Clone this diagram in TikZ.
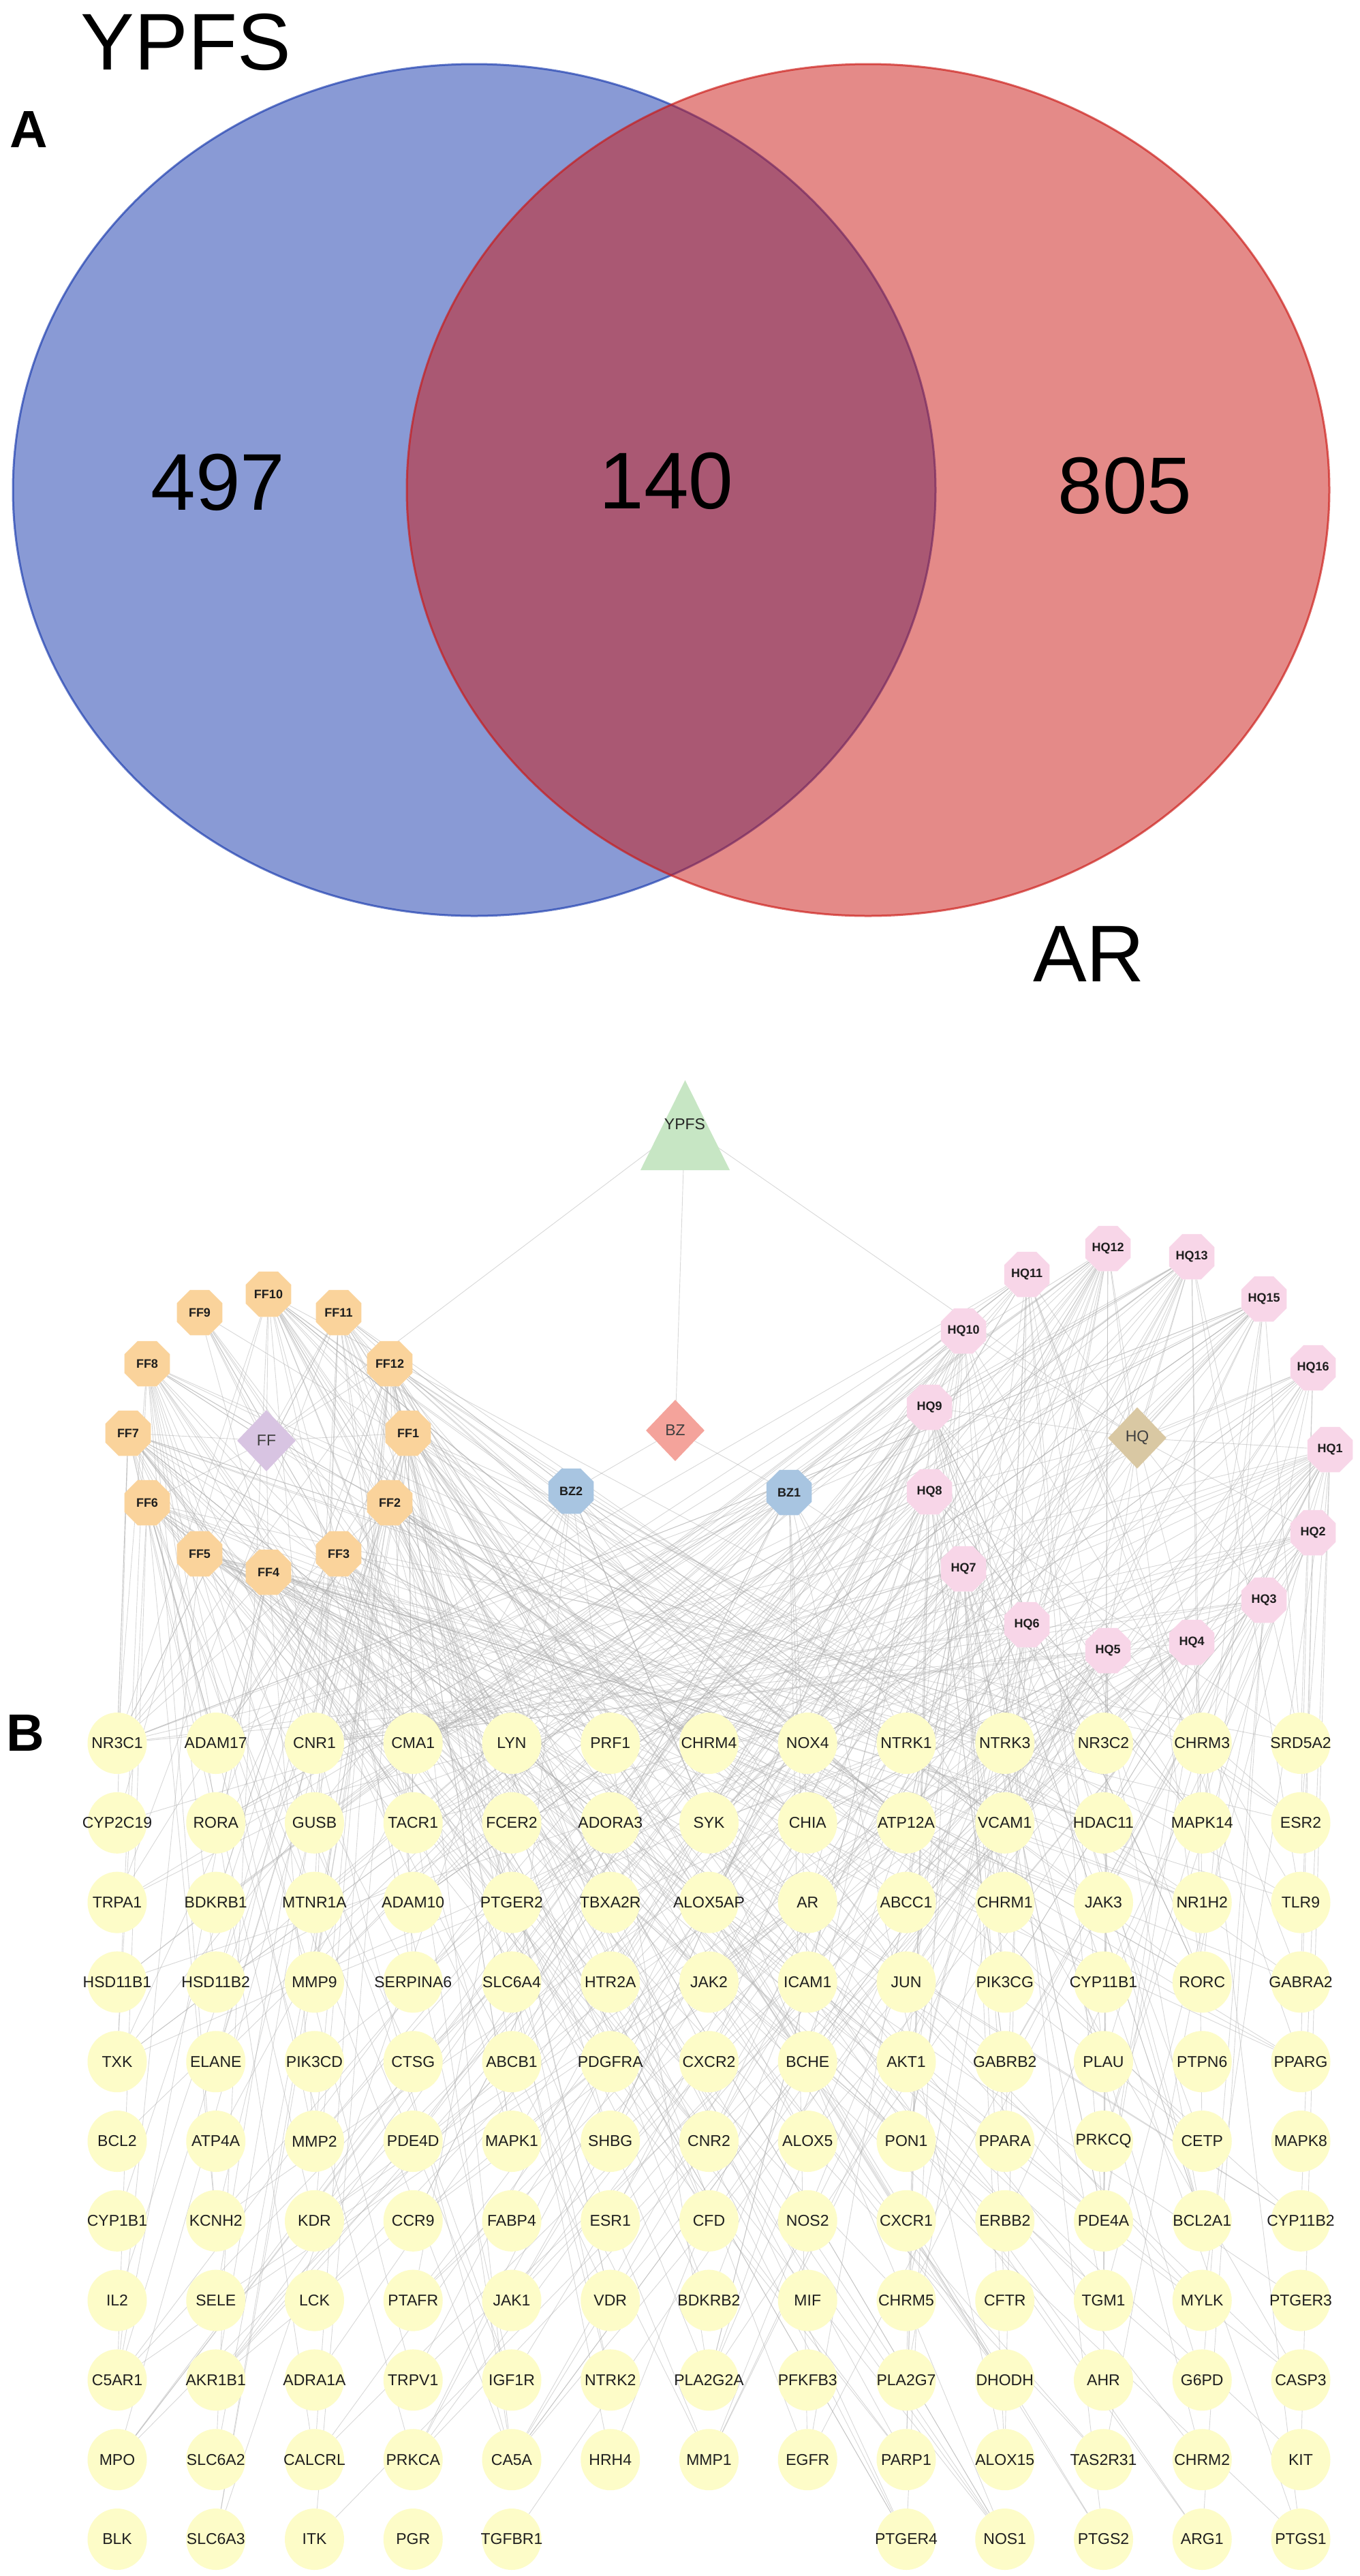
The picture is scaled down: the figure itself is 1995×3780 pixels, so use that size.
\documentclass[tikz,border=0pt]{standalone}
\usepackage{fontspec}
\setmainfont{Liberation Sans}
\usetikzlibrary{shapes.geometric}
\pgfdeclarelayer{bg}
\pgfdeclarelayer{paper}
\pgfsetlayers{paper,bg,main}
\definecolor{vblue}{RGB}{21,55,173}
\definecolor{vred}{RGB}{203,23,19}
\definecolor{ffor}{RGB}{250,211,155}
\definecolor{hqpk}{RGB}{248,214,232}
\definecolor{bzbl}{RGB}{168,197,225}
\definecolor{ffdia}{RGB}{216,196,226}
\definecolor{bzdia}{RGB}{244,163,155}
\definecolor{hqdia}{RGB}{217,200,163}
\definecolor{ypfsg}{RGB}{199,230,196}
\definecolor{geneyel}{RGB}{253,252,200}
\definecolor{txt}{RGB}{30,30,30}
\newcommand\vennfont{\fontsize{118}{120}\selectfont}
\newcommand\panelfont{\fontsize{77}{80}\selectfont\bfseries}
\newcommand\genefont{\fontsize{23}{25}\selectfont}
\newcommand\cpdfont{\fontsize{18}{20}\selectfont\bfseries}
\newcommand\herbfont{\fontsize{23}{25}\selectfont}
\begin{document}
\begin{tikzpicture}[x=1pt,y=-1pt,
  edge/.style={draw=black!30, line width=0.9pt, opacity=0.5},
  genelabel/.style={font=\genefont, text=txt, inner sep=0pt},
  cpdlabel/.style={font=\cpdfont, text=txt, inner sep=0pt},
  herblabel/.style={font=\herbfont, text=black!75, inner sep=0pt},
  gene/.style={ellipse, minimum width=87, minimum height=90, inner sep=0pt, fill=geneyel,
    label={[genelabel]center:#1}},
  cpd/.style={regular polygon, regular polygon sides=8, minimum size=72, inner sep=0pt,
    label={[cpdlabel]center:#1}},
  herb/.style={diamond, minimum width=86, minimum height=90, inner sep=0pt,
    label={[herblabel]center:#1}},
  vlabel/.style={font=\vennfont, text=black, inner sep=0pt}
]
\useasboundingbox (0,0) rectangle (1995,3780);
\begin{pgfonlayer}{paper}
  \fill[white] (0,0) rectangle (1995,3780);
\end{pgfonlayer}

% ---------- Panel A: Venn ----------
\fill[vblue, fill opacity=0.5] (696,719) ellipse [x radius=677, y radius=625];
\draw[vblue, draw opacity=0.65, line width=3] (696,719) ellipse [x radius=677, y radius=625];
\fill[vred, fill opacity=0.5] (1274,719) ellipse [x radius=677, y radius=625];
\draw[vred, draw opacity=0.65, line width=3] (1274,719) ellipse [x radius=677, y radius=625];

\node[vlabel] (vYPFS) at (273,62) {YPFS};
\node[vlabel] (vAR) at (1598,1400) {AR};
\node[vlabel] (n497) at (320,708) {497};
\node[vlabel] (n140) at (978,706) {140};
\node[vlabel] (n805) at (1651,713) {805};
\node[font=\panelfont, inner sep=0pt] (pA) at (42,190) {A};
\node[font=\panelfont, inner sep=0pt] (pB) at (37,2543) {B};

% ---------- Panel B: network ----------
\fill[ypfsg] (940,1717) -- (1005.5,1585) -- (1071,1717) -- cycle;
\node[font=\herbfont, text=black!85, inner sep=0pt] (YPFS) at (1005,1650) {YPFS};

\node[herb=FF, fill=ffdia] (FF) at (391,2114) {};
\node[herb=BZ, fill=bzdia] (BZ) at (991,2099) {};
\node[herb=HQ, fill=hqdia] (HQ) at (1669,2110) {};

\foreach \nm/\x/\y in {FF10/394/1899, FF9/293/1926, FF11/497/1926, FF8/216/2001,
  FF12/572/2001, FF7/188/2103, FF1/599/2103, FF6/216/2205, FF2/572/2205,
  FF5/293/2280, FF3/497/2280, FF4/394/2307}
  \node[cpd=\nm, fill=ffor] (\nm) at (\x,\y) {};

\node[cpd=BZ2, fill=bzbl] (BZ2) at (838,2188) {};
\node[cpd=BZ1, fill=bzbl] (BZ1) at (1158,2190) {};

\foreach \nm/\x/\y in {HQ10/1414/1953, HQ11/1507/1870, HQ12/1626/1832, HQ13/1749/1844,
  HQ15/1855/1906, HQ16/1927/2007, HQ9/1364/2065, HQ1/1952/2127, HQ8/1364/2189,
  HQ2/1927/2249, HQ7/1414/2302, HQ3/1855/2348, HQ6/1507/2384, HQ4/1749/2410,
  HQ5/1626/2422}
  \node[cpd=\nm, fill=hqpk] (\nm) at (\x,\y) {};

\foreach \gname [count=\k from 0] in {
  NR3C1,ADAM17,CNR1,CMA1,LYN,PRF1,CHRM4,NOX4,NTRK1,NTRK3,NR3C2,CHRM3,SRD5A2,
  CYP2C19,RORA,GUSB,TACR1,FCER2,ADORA3,SYK,CHIA,ATP12A,VCAM1,HDAC11,MAPK14,ESR2,
  TRPA1,BDKRB1,MTNR1A,ADAM10,PTGER2,TBXA2R,ALOX5AP,AR,ABCC1,CHRM1,JAK3,NR1H2,TLR9,
  HSD11B1,HSD11B2,MMP9,SERPINA6,SLC6A4,HTR2A,JAK2,ICAM1,JUN,PIK3CG,CYP11B1,RORC,GABRA2,
  TXK,ELANE,PIK3CD,CTSG,ABCB1,PDGFRA,CXCR2,BCHE,AKT1,GABRB2,PLAU,PTPN6,PPARG,
  BCL2,ATP4A,MMP2,PDE4D,MAPK1,SHBG,CNR2,ALOX5,PON1,PPARA,PRKCQ,CETP,MAPK8,
  CYP1B1,KCNH2,KDR,CCR9,FABP4,ESR1,CFD,NOS2,CXCR1,ERBB2,PDE4A,BCL2A1,CYP11B2,
  IL2,SELE,LCK,PTAFR,JAK1,VDR,BDKRB2,MIF,CHRM5,CFTR,TGM1,MYLK,PTGER3,
  C5AR1,AKR1B1,ADRA1A,TRPV1,IGF1R,NTRK2,PLA2G2A,PFKFB3,PLA2G7,DHODH,AHR,G6PD,CASP3,
  MPO,SLC6A2,CALCRL,PRKCA,CA5A,HRH4,MMP1,EGFR,PARP1,ALOX15,TAS2R31,CHRM2,KIT,
  BLK,SLC6A3,ITK,PGR,TGFBR1,PTGER4,NOS1,PTGS2,ARG1,PTGS1} {
  \pgfmathtruncatemacro{\r}{int(\k/13)}
  \pgfmathtruncatemacro{\c}{\k>134 ? \k-127 : mod(\k,13)}
  \pgfmathsetmacro{\gx}{172+144.75*\c}
  \pgfmathsetmacro{\gy}{2558+116.8*\r}
  \node[gene=\gname] (g\k) at (\gx,\gy) {};
}

% ---------- edges ----------
\begin{pgfonlayer}{bg}
  \draw[edge] (YPFS) -- (FF);
  \draw[edge] (YPFS) -- (BZ);
  \draw[edge] (YPFS) -- (HQ);
  \foreach \i in {1,...,12} \draw[edge] (FF) -- (FF\i);
  \draw[edge] (BZ) -- (BZ1);
  \draw[edge] (BZ) -- (BZ2);
  \foreach \i in {1,...,13,15,16} \draw[edge] (HQ) -- (HQ\i);
  \pgfmathsetseed{20231}
  \foreach \cp/\n in {FF1/25, FF2/22, FF3/18, FF4/25, FF5/15, FF6/22, FF7/28, FF8/22,
    FF9/8, FF10/25, FF11/22, FF12/30, BZ1/15, BZ2/14, HQ1/25, HQ2/15, HQ3/12, HQ4/12,
    HQ5/18, HQ6/12, HQ7/25, HQ8/25, HQ9/22, HQ10/20, HQ11/20, HQ12/25, HQ13/22,
    HQ15/22, HQ16/15} {
    \foreach \j in {1,...,\n} {
      \pgfmathtruncatemacro{\t}{int(139.99*(rnd^1.35))}
      \draw[edge] (\cp) -- (g\t);
    }
  }
\end{pgfonlayer}
\end{tikzpicture}
\end{document}
